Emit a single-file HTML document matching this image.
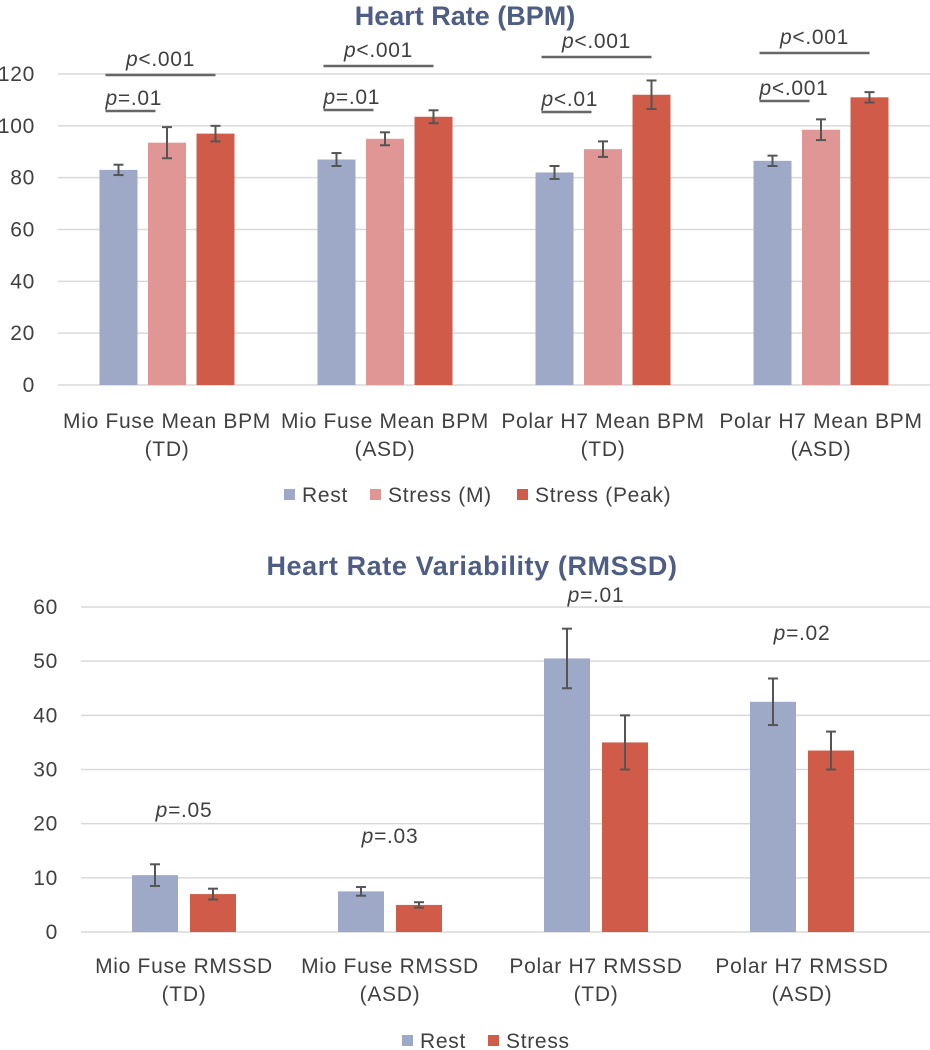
<!DOCTYPE html>
<html><head><meta charset="utf-8"><style>
html,body{margin:0;padding:0;background:#fff;}
svg{display:block;font-family:"Liberation Sans",sans-serif;}
</style></head><body>
<svg id="svg" width="930" height="1050" viewBox="0 0 930 1050">
<text x="465" y="25" text-anchor="middle" font-size="27" font-weight="bold" fill="#4D5D84">Heart Rate (BPM)</text>
<text x="472" y="575" text-anchor="middle" font-size="27" font-weight="bold" fill="#4D5D84" letter-spacing="0.6">Heart Rate Variability (RMSSD)</text>
<g id="c1"></g>
<g id="c2"></g>
</svg>
<script>
const bpmCategories = [["Mio Fuse Mean BPM","(TD)"],["Mio Fuse Mean BPM","(ASD)"],["Polar H7 Mean BPM","(TD)"],["Polar H7 Mean BPM","(ASD)"]];
const bpmRest = [83, 87, 82, 86.5];
const bpmStressM = [93.5, 95, 91, 98.5];
const bpmStressPeak = [97, 103.5, 112, 111];
const bpmRestErr = [2, 2.5, 2.5, 2];
const bpmStressMErr = [6, 2.5, 3, 4];
const bpmStressPeakErr = [3, 2.5, 5.5, 2];
const bpmTicks = [0, 20, 40, 60, 80, 100, 120];
const bpmPLow = ["=.01", "=.01", "<.01", "<.001"];
const bpmPHigh = ["<.001", "<.001", "<.001", "<.001"];

const hrvCategories = [["Mio Fuse RMSSD","(TD)"],["Mio Fuse RMSSD","(ASD)"],["Polar H7 RMSSD","(TD)"],["Polar H7 RMSSD","(ASD)"]];
const hrvRest = [10.5, 7.5, 50.5, 42.5];
const hrvStress = [7, 5, 35, 33.5];
const hrvRestErr = [2, 0.8, 5.5, 4.3];
const hrvStressErr = [1, 0.5, 5, 3.5];
const hrvTicks = [0, 10, 20, 30, 40, 50, 60];
const hrvP = ["=.05", "=.03", "=.01", "=.02"];

const NS = "http://www.w3.org/2000/svg";
const FS = 21, LS = 0.7;
function mk(parent, tag, attrs, text){
  const e = document.createElementNS(NS, tag);
  for (const k in attrs) e.setAttribute(k, attrs[k]);
  if (text !== undefined) e.textContent = text;
  parent.appendChild(e);
  return e;
}
function ptext(parent, x, y, rest, anchor){
  const t = mk(parent, "text", {x:x, y:y, "text-anchor":anchor||"middle", "font-size":FS, "letter-spacing":LS, fill:"#404040"});
  mk(t, "tspan", {"font-style":"italic"}, "p");
  mk(t, "tspan", {}, rest);
  return t;
}
function errbar(g, cx, y1, y2){
  mk(g, "line", {x1:cx, x2:cx, y1:y1, y2:y2, stroke:"#555", "stroke-width":2});
  mk(g, "line", {x1:cx-5, x2:cx+5, y1:y1, y2:y1, stroke:"#555", "stroke-width":2});
  mk(g, "line", {x1:cx-5, x2:cx+5, y1:y2, y2:y2, stroke:"#555", "stroke-width":2});
}

// ---- Chart 1 ----
(function(){
  const g = document.getElementById("c1");
  const x0 = 58, x1 = 930, bandW = 218, y0 = 385, yTop = 74, maxV = 120;
  const yS = v => y0 - v/maxV*(y0-yTop);
  const xC = i => x0 + bandW*(i+0.5);
  bpmTicks.forEach(t => {
    const l = mk(g, "line", {x1:x0, x2:x1, y1:yS(t), y2:yS(t), stroke:"#d9d9d9", "stroke-width":1.5});
    
    
    const tx = mk(g, "text", {x:35, y:yS(t)+7, "text-anchor":"end", "font-size":FS, "letter-spacing":LS, fill:"#404040"}, String(t));
    
    
  });
  const series = [[bpmRest,bpmRestErr,"#9EA9C8","rest"],[bpmStressM,bpmStressMErr,"#E09694","stress-m"],[bpmStressPeak,bpmStressPeakErr,"#D05B48","stress-peak"]];
  const bw = 38, step = 48.5;
  const yLow = [111, 110, 112, 101];
  const yHigh = [75, 66, 57, 53];
  bpmCategories.forEach((c, i) => {
    series.forEach((s, j) => {
      const cx = xC(i) + (j-1)*step;
      const r = mk(g, "rect", {x:cx-bw/2, y:yS(s[0][i]), width:bw, height:y0-yS(s[0][i]), fill:s[2]});
      
      
      errbar(g, cx, yS(s[0][i]+s[1][i]), yS(s[0][i]-s[1][i]));
    });
    const lb = mk(g, "text", {x:xC(i), y:428, "text-anchor":"middle", "font-size":FS, "letter-spacing":LS, fill:"#404040"}, c[0]);
    
    
    const lb2 = mk(g, "text", {x:xC(i), y:456, "text-anchor":"middle", "font-size":FS, "letter-spacing":LS, fill:"#404040"}, c[1]);
    
    
    const left = xC(i) - step - bw/2 + 6;
    const yl = yLow[i], yH = yHigh[i];
    mk(g, "line", {x1:left, x2:left+50, y1:yl, y2:yl, stroke:"#666", "stroke-width":2.5});
    mk(g, "line", {x1:left, x2:left+110, y1:yH, y2:yH, stroke:"#666", "stroke-width":2.5});
    const p1 = ptext(g, left, yl-6, bpmPLow[i], "start");
    
    
    const p2 = ptext(g, left+55, yH-9, bpmPHigh[i], "middle");
    
    
  });
  const leg = [["Rest","#9EA9C8",284],["Stress (M)","#E09694",370],["Stress (Peak)","#D05B48",517]];
  leg.forEach(L => {
    const sw = mk(g, "rect", {x:L[2], y:489, width:11, height:11, fill:L[1]});
    
    
    const t = mk(g, "text", {x:L[2]+18, y:502, "font-size":FS, "letter-spacing":LS, fill:"#404040"}, L[0]);
    
    
  });
})();

// ---- Chart 2 ----
(function(){
  const g = document.getElementById("c2");
  const x0 = 81, x1 = 930, bandW = 206, y0 = 932, yTop = 607, maxV = 60;
  const yS = v => y0 - v/maxV*(y0-yTop);
  const xC = i => x0 + bandW*(i+0.5);
  hrvTicks.forEach(t => {
    const l = mk(g, "line", {x1:x0, x2:x1, y1:yS(t), y2:yS(t), stroke:"#d9d9d9", "stroke-width":1.5});
    
    
    const tx = mk(g, "text", {x:58, y:yS(t)+7, "text-anchor":"end", "font-size":FS, "letter-spacing":LS, fill:"#404040"}, String(t));
    
    
  });
  const series = [[hrvRest,hrvRestErr,"#9EA9C8","rest"],[hrvStress,hrvStressErr,"#D05B48","stress"]];
  const bw = 46, step = 29;
  const pBase = [817, 843, 602, 640];
  hrvCategories.forEach((c, i) => {
    series.forEach((s, j) => {
      const cx = xC(i) + (j===0?-step:step);
      const r = mk(g, "rect", {x:cx-bw/2, y:yS(s[0][i]), width:bw, height:y0-yS(s[0][i]), fill:s[2]});
      
      
      errbar(g, cx, yS(s[0][i]+s[1][i]), yS(s[0][i]-s[1][i]));
    });
    const p = ptext(g, xC(i), pBase[i], hrvP[i], "middle");
    
    
    const lb = mk(g, "text", {x:xC(i), y:973, "text-anchor":"middle", "font-size":FS, "letter-spacing":LS, fill:"#404040"}, c[0]);
    
    
    const lb2 = mk(g, "text", {x:xC(i), y:1001, "text-anchor":"middle", "font-size":FS, "letter-spacing":LS, fill:"#404040"}, c[1]);
    
    
  });
  const leg = [["Rest","#9EA9C8",402],["Stress","#D05B48",488]];
  leg.forEach(L => {
    const sw = mk(g, "rect", {x:L[2], y:1035, width:11, height:11, fill:L[1]});
    
    
    const t = mk(g, "text", {x:L[2]+18, y:1048, "font-size":FS, "letter-spacing":LS, fill:"#404040"}, L[0]);
    
    
  });
})();
</script>
</body></html>
